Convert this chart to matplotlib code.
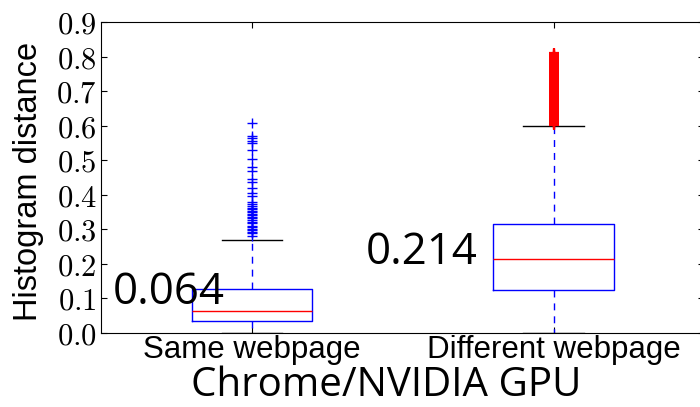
import matplotlib
matplotlib.use("Agg")
import matplotlib.pyplot as plt

plt.rcParams["mathtext.fontset"] = "cm"

# box statistics for the two groups
groups = ["Same webpage", "Different webpage"]
medians = [0.064, 0.214]
q1 = [0.034, 0.124]
q3 = [0.128, 0.315]
whisker_lo = [0.0, 0.0]
whisker_hi = [0.268, 0.600]

same_fliers = [0.607, 0.570, 0.563, 0.556, 0.549, 0.530, 0.503, 0.481, 0.470,
               0.446, 0.438, 0.419, 0.404, 0.396, 0.380, 0.374, 0.368, 0.362,
               0.358, 0.352, 0.349, 0.345, 0.341, 0.337, 0.333, 0.328, 0.322,
               0.317, 0.311, 0.306, 0.302, 0.297, 0.293, 0.288, 0.281]
diff_fliers = [0.601, 0.604, 0.608, 0.611, 0.615, 0.619, 0.622, 0.626, 0.630,
               0.633, 0.637, 0.641, 0.645, 0.648, 0.652, 0.656, 0.659, 0.663,
               0.667, 0.671, 0.674, 0.678, 0.682, 0.685, 0.689, 0.693, 0.697,
               0.700, 0.704, 0.708, 0.711, 0.715, 0.719, 0.723, 0.726, 0.730,
               0.734, 0.737, 0.741, 0.745, 0.749, 0.752, 0.756, 0.760, 0.763,
               0.767, 0.771, 0.775, 0.778, 0.782, 0.786, 0.789, 0.793, 0.797,
               0.801, 0.804, 0.808, 0.811]

yticks = [0.0, 0.1, 0.2, 0.3, 0.4, 0.5, 0.6, 0.7, 0.8, 0.9]

stats = []
for i, name in enumerate(groups):
    stats.append(dict(label=name, med=medians[i], q1=q1[i], q3=q3[i],
                      whislo=whisker_lo[i], whishi=whisker_hi[i],
                      fliers=[same_fliers, diff_fliers][i]))

fig = plt.figure(figsize=(7.0, 4.07), dpi=100)
ax = fig.add_axes([0.1443, 0.1818, 0.8621, 0.7641])

bp = ax.bxp(stats, positions=[1, 2], widths=0.4,
            boxprops=dict(color="blue", linewidth=1.0),
            whiskerprops=dict(color="blue", linewidth=1.0, linestyle=(0, (5, 4.3))),
            capprops=dict(color="black", linewidth=1.0),
            medianprops=dict(color="red", linewidth=1.0),
            flierprops=dict(marker="+", markersize=6.5, markeredgewidth=1.0,
                            markeredgecolor="blue", linestyle="none"))
bp["fliers"][1].set_markeredgecolor("red")
bp["fliers"][1].set_markeredgewidth(1.6)

ax.set_xlim(0.5, 2.5)
ax.set_ylim(0.0, 0.9)
ax.set_yticks(yticks)
ax.set_yticklabels([r"$%.1f$" % v for v in yticks], fontsize=22)
ax.set_xticks([1, 2])
ax.set_xticklabels(groups, family="Liberation Sans", fontsize=22.5)
ax.tick_params(direction="in", length=4, width=0.8, top=True, right=True)
ax.tick_params(axis="y", pad=3)
ax.tick_params(axis="x", pad=1.5)

ax.set_ylabel("Histogram distance", family="Liberation Sans", fontsize=23.5, labelpad=9)
ax.yaxis.label.set_y(0.486)
ax.set_xlabel("Chrome/NVIDIA GPU", family="Open Sans", fontsize=29, labelpad=0)
ax.xaxis.label.set_x(0.472)

ax.text(0.54, 0.084, "0.064", family="Open Sans", fontsize=31.5, ha="left", va="baseline")
ax.text(1.377, 0.200, "0.214", family="Open Sans", fontsize=31.5, ha="left", va="baseline")

fig.savefig("out.png", dpi=100, facecolor="white")
